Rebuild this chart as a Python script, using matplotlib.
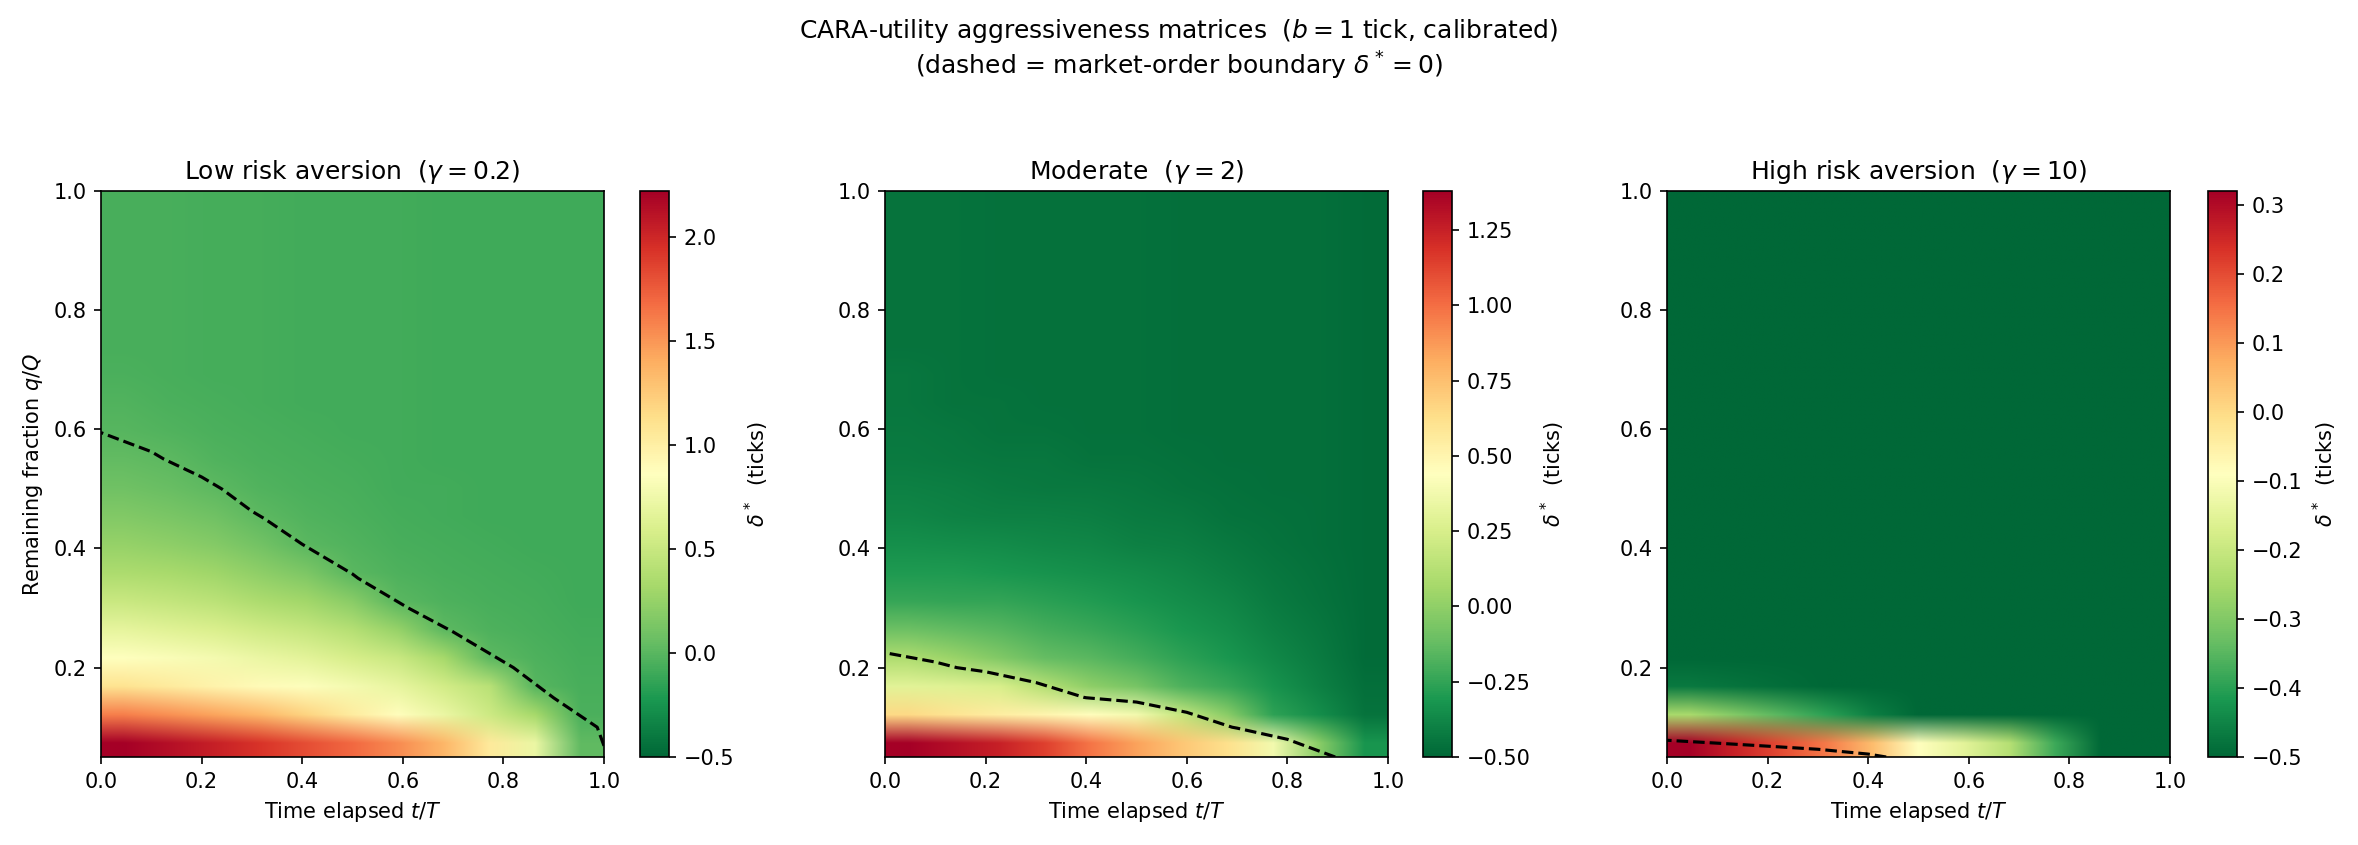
import numpy as np
import matplotlib
matplotlib.use('Agg')
import matplotlib.pyplot as plt

# Grid: time elapsed t/T (columns) and remaining fraction q/Q (rows)
t_vals = [0.0, 0.1, 0.2, 0.3, 0.4, 0.5, 0.6, 0.7, 0.8, 0.9, 1.0]
q_vals = [0.05, 0.10, 0.15, 0.20, 0.25, 0.30, 0.35, 0.40, 0.45, 0.50,
          0.55, 0.60, 0.65, 0.70, 0.75, 0.80, 0.85, 0.90, 0.95, 1.00]

# delta* (ticks), one list per time column, from q=0.05 up to q=1.0
delta_low = [
    [2.22, 1.60, 1.10, 0.86, 0.68, 0.50, 0.36, 0.25, 0.16, 0.09, 0.04, -0.005, -0.03, -0.05, -0.06, -0.06, -0.06, -0.06, -0.06, -0.06],
    [2.13, 1.52, 1.03, 0.82, 0.64, 0.47, 0.33, 0.22, 0.13, 0.06, 0.01, -0.03, -0.05, -0.06, -0.06, -0.06, -0.06, -0.06, -0.06, -0.06],
    [2.03, 1.44, 0.96, 0.78, 0.60, 0.43, 0.29, 0.18, 0.09, 0.02, -0.03, -0.05, -0.06, -0.07, -0.07, -0.07, -0.07, -0.07, -0.07, -0.07],
    [1.93, 1.34, 0.90, 0.72, 0.54, 0.36, 0.22, 0.10, 0.01, -0.03, -0.05, -0.06, -0.07, -0.07, -0.07, -0.07, -0.07, -0.07, -0.07, -0.07],
    [1.81, 1.20, 0.84, 0.66, 0.48, 0.30, 0.14, 0.005, -0.03, -0.05, -0.06, -0.07, -0.08, -0.08, -0.08, -0.08, -0.08, -0.08, -0.08, -0.08],
    [1.69, 1.02, 0.78, 0.58, 0.40, 0.20, 0.005, -0.03, -0.05, -0.06, -0.07, -0.08, -0.08, -0.08, -0.08, -0.08, -0.08, -0.08, -0.08, -0.08],
    [1.55, 0.88, 0.70, 0.50, 0.25, 0.005, -0.04, -0.06, -0.07, -0.08, -0.08, -0.08, -0.08, -0.08, -0.08, -0.08, -0.08, -0.08, -0.08, -0.08],
    [1.35, 0.72, 0.56, 0.32, 0.01, -0.04, -0.06, -0.07, -0.08, -0.08, -0.09, -0.09, -0.09, -0.09, -0.09, -0.09, -0.09, -0.09, -0.09, -0.09],
    [1.05, 0.52, 0.42, 0.01, -0.04, -0.06, -0.07, -0.08, -0.09, -0.09, -0.09, -0.09, -0.09, -0.09, -0.09, -0.09, -0.09, -0.09, -0.09, -0.09],
    [0.72, 0.32, -0.005, -0.04, -0.06, -0.07, -0.08, -0.09, -0.09, -0.09, -0.09, -0.09, -0.09, -0.09, -0.09, -0.09, -0.09, -0.09, -0.09, -0.09],
    [0.03, -0.05, -0.06, -0.07, -0.08, -0.09, -0.09, -0.09, -0.09, -0.09, -0.09, -0.09, -0.09, -0.09, -0.09, -0.09, -0.09, -0.09, -0.09, -0.09],
]

delta_mod = [
    [1.38, 0.65, 0.30, 0.10, -0.10, -0.24, -0.30, -0.34, -0.38, -0.40, -0.42, -0.43, -0.44, -0.44, -0.45, -0.45, -0.45, -0.45, -0.45, -0.45],
    [1.32, 0.60, 0.28, 0.03, -0.13, -0.25, -0.30, -0.35, -0.39, -0.41, -0.43, -0.44, -0.45, -0.45, -0.45, -0.45, -0.45, -0.45, -0.45, -0.45],
    [1.25, 0.55, 0.25, -0.04, -0.16, -0.25, -0.31, -0.36, -0.40, -0.42, -0.44, -0.45, -0.45, -0.46, -0.46, -0.46, -0.46, -0.46, -0.46, -0.46],
    [1.14, 0.50, 0.12, -0.12, -0.20, -0.27, -0.33, -0.37, -0.40, -0.43, -0.44, -0.45, -0.46, -0.46, -0.46, -0.46, -0.46, -0.46, -0.46, -0.46],
    [0.98, 0.45, -0.005, -0.15, -0.23, -0.29, -0.34, -0.38, -0.41, -0.43, -0.45, -0.46, -0.46, -0.46, -0.46, -0.46, -0.46, -0.46, -0.46, -0.46],
    [0.85, 0.38, -0.07, -0.20, -0.27, -0.32, -0.36, -0.40, -0.42, -0.44, -0.45, -0.46, -0.46, -0.46, -0.46, -0.46, -0.46, -0.46, -0.46, -0.46],
    [0.72, 0.18, -0.18, -0.26, -0.31, -0.35, -0.38, -0.41, -0.43, -0.45, -0.46, -0.47, -0.47, -0.47, -0.47, -0.47, -0.47, -0.47, -0.47, -0.47],
    [0.62, -0.02, -0.24, -0.31, -0.35, -0.38, -0.41, -0.43, -0.45, -0.46, -0.47, -0.47, -0.47, -0.47, -0.47, -0.47, -0.47, -0.47, -0.47, -0.47],
    [0.38, -0.26, -0.33, -0.37, -0.40, -0.42, -0.44, -0.45, -0.46, -0.47, -0.47, -0.47, -0.47, -0.47, -0.47, -0.47, -0.47, -0.47, -0.47, -0.47],
    [-0.02, -0.35, -0.40, -0.42, -0.44, -0.45, -0.46, -0.47, -0.47, -0.47, -0.47, -0.47, -0.47, -0.47, -0.47, -0.47, -0.47, -0.47, -0.47, -0.47],
    [-0.32, -0.45, -0.47, -0.48, -0.48, -0.48, -0.48, -0.48, -0.48, -0.48, -0.48, -0.48, -0.48, -0.48, -0.48, -0.48, -0.48, -0.48, -0.48, -0.48],
]

delta_high = [
    [0.32, -0.25, -0.47, -0.50, -0.50, -0.50, -0.50, -0.50, -0.50, -0.50, -0.50, -0.50, -0.50, -0.50, -0.50, -0.50, -0.50, -0.50, -0.50, -0.50],
    [0.26, -0.30, -0.48, -0.50, -0.50, -0.50, -0.50, -0.50, -0.50, -0.50, -0.50, -0.50, -0.50, -0.50, -0.50, -0.50, -0.50, -0.50, -0.50, -0.50],
    [0.20, -0.35, -0.49, -0.50, -0.50, -0.50, -0.50, -0.50, -0.50, -0.50, -0.50, -0.50, -0.50, -0.50, -0.50, -0.50, -0.50, -0.50, -0.50, -0.50],
    [0.14, -0.40, -0.50, -0.50, -0.50, -0.50, -0.50, -0.50, -0.50, -0.50, -0.50, -0.50, -0.50, -0.50, -0.50, -0.50, -0.50, -0.50, -0.50, -0.50],
    [0.05, -0.46, -0.50, -0.50, -0.50, -0.50, -0.50, -0.50, -0.50, -0.50, -0.50, -0.50, -0.50, -0.50, -0.50, -0.50, -0.50, -0.50, -0.50, -0.50],
    [-0.09, -0.50, -0.50, -0.50, -0.50, -0.50, -0.50, -0.50, -0.50, -0.50, -0.50, -0.50, -0.50, -0.50, -0.50, -0.50, -0.50, -0.50, -0.50, -0.50],
    [-0.15, -0.50, -0.50, -0.50, -0.50, -0.50, -0.50, -0.50, -0.50, -0.50, -0.50, -0.50, -0.50, -0.50, -0.50, -0.50, -0.50, -0.50, -0.50, -0.50],
    [-0.23, -0.50, -0.50, -0.50, -0.50, -0.50, -0.50, -0.50, -0.50, -0.50, -0.50, -0.50, -0.50, -0.50, -0.50, -0.50, -0.50, -0.50, -0.50, -0.50],
    [-0.38, -0.50, -0.50, -0.50, -0.50, -0.50, -0.50, -0.50, -0.50, -0.50, -0.50, -0.50, -0.50, -0.50, -0.50, -0.50, -0.50, -0.50, -0.50, -0.50],
    [-0.50, -0.50, -0.50, -0.50, -0.50, -0.50, -0.50, -0.50, -0.50, -0.50, -0.50, -0.50, -0.50, -0.50, -0.50, -0.50, -0.50, -0.50, -0.50, -0.50],
    [-0.50, -0.50, -0.50, -0.50, -0.50, -0.50, -0.50, -0.50, -0.50, -0.50, -0.50, -0.50, -0.50, -0.50, -0.50, -0.50, -0.50, -0.50, -0.50, -0.50],
]

titles = [r'Low risk aversion  ($\gamma=0.2$)',
          r'Moderate  ($\gamma=2$)',
          r'High risk aversion  ($\gamma=10$)']
paneles = [delta_low, delta_mod, delta_high]

W, H = 2358, 845
fig = plt.figure(figsize=(W / 150, H / 150), dpi=150)
fig.suptitle('CARA-utility aggressiveness matrices  ($b=1$ tick, calibrated)\n'
             r'(dashed = market-order boundary $\delta^*=0$)')

# posiciones en pixeles (izq, ancho) de cada panel y su colorbar
ax_left = [101, 885, 1667]
cb_left = [640, 1423, 2208]
ax_w, cb_w = 503, 29
bottom, top = 757, 191

for i in range(3):
    ax = fig.add_axes([ax_left[i] / W, (H - bottom) / H, ax_w / W, (bottom - top) / H])
    cax = fig.add_axes([cb_left[i] / W, (H - bottom) / H, cb_w / W, (bottom - top) / H])

    Z = np.array(paneles[i]).T  # filas = q, columnas = t
    im = ax.imshow(Z, origin='lower', extent=[0, 1, 0.05, 1], aspect='auto',
                   cmap='RdYlGn_r', vmin=-0.5, vmax=Z.max(),
                   interpolation='bilinear', interpolation_stage='rgba')
    ax.contour(t_vals, q_vals, Z, levels=[0], colors='k', linestyles='--', linewidths=1.5)

    ax.set_xlim(0, 1)
    ax.set_ylim(0.05, 1)
    ax.set_xticks([0, 0.2, 0.4, 0.6, 0.8, 1.0])
    ax.set_yticks([0.2, 0.4, 0.6, 0.8, 1.0])
    ax.set_title(titles[i])
    ax.set_xlabel('Time elapsed $t/T$')
    if i == 0:
        ax.set_ylabel('Remaining fraction $q/Q$')

    cb = fig.colorbar(im, cax=cax)
    cb.set_label(r'$\delta^*$  (ticks)')

plt.savefig('out.png', dpi=150)
